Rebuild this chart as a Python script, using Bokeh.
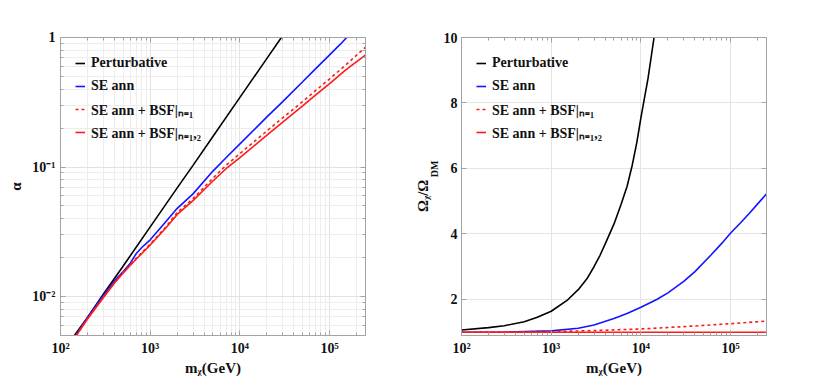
import math
from bokeh.plotting import figure
from bokeh.models import LogAxis, LinearAxis, FixedTicker, Legend, LegendItem
from bokeh.layouts import row
from bokeh.embed import file_html
from bokeh.resources import INLINE

# ---------------- data: left panel (alpha vs m_chi) ----------------
mass_pert = [143, 200, 300, 500, 1000, 2000, 3000, 5000, 10000, 20000, 29000]
alpha_pert = [0.0050, 0.0069, 0.0104, 0.0172, 0.0345, 0.069, 0.103, 0.172, 0.345, 0.69, 1.0]

mass_se = [148, 200, 300, 400, 500, 600, 700, 800, 1000, 1500, 2000, 3000, 5000, 7000,
           10000, 20000, 30000, 50000, 70000, 100000, 130000, 155000]
alpha_se = [0.0050, 0.0069, 0.0102, 0.0132, 0.0156, 0.0181, 0.0215, 0.0238, 0.0274, 0.038,
            0.048, 0.062, 0.093, 0.118, 0.151, 0.244, 0.32, 0.455, 0.575, 0.735, 0.88, 1.0]

mass_bsf = [150, 200, 300, 400, 500, 700, 1000, 1500, 2000, 3000, 5000, 7000, 10000,
            20000, 30000, 50000, 70000, 100000, 150000, 250000]
alpha_bsf1 = [0.0050, 0.0068, 0.0099, 0.0128, 0.0154, 0.0198, 0.0254, 0.0346, 0.0445, 0.057,
              0.082, 0.103, 0.127, 0.19, 0.24, 0.32, 0.39, 0.48, 0.61, 0.84]
alpha_bsf12 = [0.0050, 0.0067, 0.0098, 0.0127, 0.0152, 0.0195, 0.0250, 0.0340, 0.0430, 0.055,
               0.078, 0.097, 0.118, 0.176, 0.222, 0.296, 0.36, 0.44, 0.56, 0.73]

# ---------------- data: right panel (Omega/Omega_DM vs m_chi) ----------------
mass_r_pert = [100, 200, 300, 500, 700, 1000, 1500, 2000, 2500, 3000, 3500, 4000, 5000,
               6000, 7000, 8000, 9000, 10000, 12000, 14000]
omega_pert = [1.07, 1.14, 1.20, 1.32, 1.46, 1.64, 1.97, 2.30, 2.63, 3.00, 3.35, 3.70, 4.30,
              4.90, 5.45, 6.10, 6.80, 7.55, 8.75, 10.0]

mass_r_se = [100, 300, 1000, 2000, 3000, 5000, 7000, 10000, 15000, 20000, 30000, 40000,
             60000, 80000, 100000, 130000, 160000, 200000, 250000]
omega_se = [1.00, 1.00, 1.04, 1.12, 1.22, 1.42, 1.57, 1.76, 2.00, 2.20, 2.55, 2.85,
            3.35, 3.72, 4.03, 4.35, 4.62, 4.92, 5.22]

mass_r_bsf = [100, 300, 1000, 3000, 10000, 30000, 100000, 250000]
omega_bsf1 = [1.00, 1.005, 1.02, 1.05, 1.10, 1.17, 1.26, 1.34]
omega_bsf12 = [1.00, 1.00, 1.00, 1.00, 1.00, 1.00, 1.00, 1.00]

# ---------------- ticks / labels ----------------
x_major = [100, 1000, 10000, 100000]
x_labels = ["10²", "10³", "10⁴", "10⁵"]
y1_major = [0.01, 0.1, 1]
y1_labels = ["10⁻²", "10⁻¹", "1"]
y2_major = [2, 4, 6, 8, 10]

legend_labels = ["Perturbative", "SE ann", "SE ann + BSF|ₙ₌₁", "SE ann + BSF|ₙ₌₁,₂"]
xlabel = "mᵪ(GeV)"
ylabel1 = "α"
ylabel2_main = "Ωᵪ/Ω"
ylabel2_sub = "DM"

FONT = "Liberation Serif"
AX = "#a3a3a3"
TXT = "#111111"
BLUE = "#1414ff"
RED = "#ff1a1a"
NBSP = "\u00a0"

x_minor = [m * 10 ** e for e in range(2, 6) for m in range(2, 10) if m * 10 ** e <= 300000]
y1_minor = [m * 10.0 ** e for e in (-3, -2, -1) for m in range(2, 10)]


def style_axis(ax, show_labels=True):
    ax.axis_line_color = AX
    ax.major_tick_line_color = AX
    ax.minor_tick_line_color = AX
    ax.major_tick_in = 5
    ax.major_tick_out = 0
    ax.minor_tick_in = 3
    ax.minor_tick_out = 0
    ax.major_label_text_font = FONT
    ax.major_label_text_font_style = "bold"
    if show_labels:
        ax.major_label_text_color = TXT
        ax.major_label_text_font_size = "14px"
        ax.major_label_standoff = 5
    else:
        ax.major_label_text_color = None
        ax.major_label_text_font_size = "1px"
        ax.major_label_standoff = 0
    ax.axis_label_text_font = FONT
    ax.axis_label_text_font_style = "bold"
    ax.axis_label_text_font_size = "15px"
    ax.axis_label_text_color = TXT


def label_axis(text, size, standoff):
    ax = LinearAxis(ticker=FixedTicker(ticks=[]), axis_label=text)
    style_axis(ax, False)
    ax.axis_line_color = None
    ax.major_tick_line_color = None
    ax.minor_tick_line_color = None
    ax.axis_label_text_font_size = size
    ax.axis_label_standoff = standoff
    return ax


def make_legend(renderers):
    lg = Legend(items=[LegendItem(label=l, renderers=[r]) for l, r in zip(legend_labels, renderers)],
                location="top_left", margin=15, padding=5, spacing=1,
                label_height=22, glyph_height=22, glyph_width=10, label_standoff=6,
                border_line_color=None, background_fill_alpha=0,
                label_text_font=FONT, label_text_font_style="bold",
                label_text_font_size="14px", label_text_color=TXT)
    return lg


# ================= left figure =================
p1 = figure(x_axis_type="log", y_axis_type="log", x_range=(100, 251000), y_range=(0.005, 1),
            frame_width=305, frame_height=298,
            min_border_left=60, min_border_right=40, min_border_top=37, min_border_bottom=44,
            output_backend="svg", toolbar_location=None)
p1.outline_line_color = AX
xt1 = FixedTicker(ticks=x_major, minor_ticks=x_minor)
yt1 = FixedTicker(ticks=y1_major, minor_ticks=y1_minor)
p1.xaxis.ticker = xt1
p1.yaxis.ticker = yt1
p1.xaxis.major_label_overrides = {k: v for k, v in zip(x_major, x_labels)}
p1.yaxis.major_label_overrides = {k: v for k, v in zip(y1_major, y1_labels)}
for ax in p1.xaxis + p1.yaxis:
    style_axis(ax)
p1.xaxis.axis_label = xlabel
p1.xaxis.axis_label_standoff = 1
p1.yaxis.axis_label = ylabel1
p1.yaxis.axis_label_standoff = 5
ax_top = LogAxis(ticker=xt1)
style_axis(ax_top, False)
p1.add_layout(ax_top, "above")
ax_right = LogAxis(ticker=yt1)
style_axis(ax_right, False)
p1.add_layout(ax_right, "right")

p1.xgrid.ticker = xt1
p1.ygrid.ticker = yt1
for g in (p1.xgrid, p1.ygrid):
    g.grid_line_color = "#e2e2e2"
    g.minor_grid_line_color = "#ededed"

r1 = p1.line(mass_pert, alpha_pert, line_color="black", line_width=1.6)
r2 = p1.line(mass_se, alpha_se, line_color=BLUE, line_width=1.6)
r3 = p1.line(mass_bsf, alpha_bsf1, line_color=RED, line_width=1.6, line_dash="3 3")
r4 = p1.line(mass_bsf, alpha_bsf12, line_color=RED, line_width=1.6)
p1.add_layout(make_legend([r1, r2, r3, r4]))

# ================= right figure =================
p2 = figure(x_axis_type="log", x_range=(100, 251000), y_range=(0.9, 10),
            frame_width=305, frame_height=298,
            min_border_left=56, min_border_right=34, min_border_top=37, min_border_bottom=44,
            output_backend="svg", toolbar_location=None)
p2.outline_line_color = AX
xt2 = FixedTicker(ticks=x_major, minor_ticks=x_minor)
yt2 = FixedTicker(ticks=y2_major)
p2.xaxis.ticker = xt2
p2.yaxis.ticker = yt2
p2.xaxis.major_label_overrides = {k: v for k, v in zip(x_major, x_labels)}
for ax in p2.xaxis + p2.yaxis:
    style_axis(ax)
p2.yaxis.major_label_standoff = 4
p2.xaxis.axis_label = xlabel
p2.xaxis.axis_label_standoff = 1
ax_top2 = LogAxis(ticker=xt2)
style_axis(ax_top2, False)
p2.add_layout(ax_top2, "above")
ax_right2 = LinearAxis(ticker=yt2)
style_axis(ax_right2, False)
p2.add_layout(ax_right2, "right")
p2.xgrid.ticker = xt2
p2.ygrid.ticker = yt2
p2.xgrid.grid_line_color = "#e4e4e4"
p2.ygrid.grid_line_color = "#e4e4e4"

# y-axis label with a subscript: two stacked label-only axes
p2.add_layout(label_axis(NBSP * 14 + ylabel2_sub, "10px", 1), "left")
p2.add_layout(label_axis(ylabel2_main + NBSP * 5, "15px", -5), "left")

s1 = p2.line(mass_r_pert, omega_pert, line_color="black", line_width=1.6)
s2 = p2.line(mass_r_se, omega_se, line_color=BLUE, line_width=1.6)
s3 = p2.line(mass_r_bsf, omega_bsf1, line_color=RED, line_width=1.6, line_dash="3 3")
s4 = p2.line(mass_r_bsf, omega_bsf12, line_color=RED, line_width=1.6)
p2.add_layout(make_legend([s1, s2, s3, s4]))

layout = row(p1, p2)
open("out.html", "w").write(file_html(layout, INLINE))
